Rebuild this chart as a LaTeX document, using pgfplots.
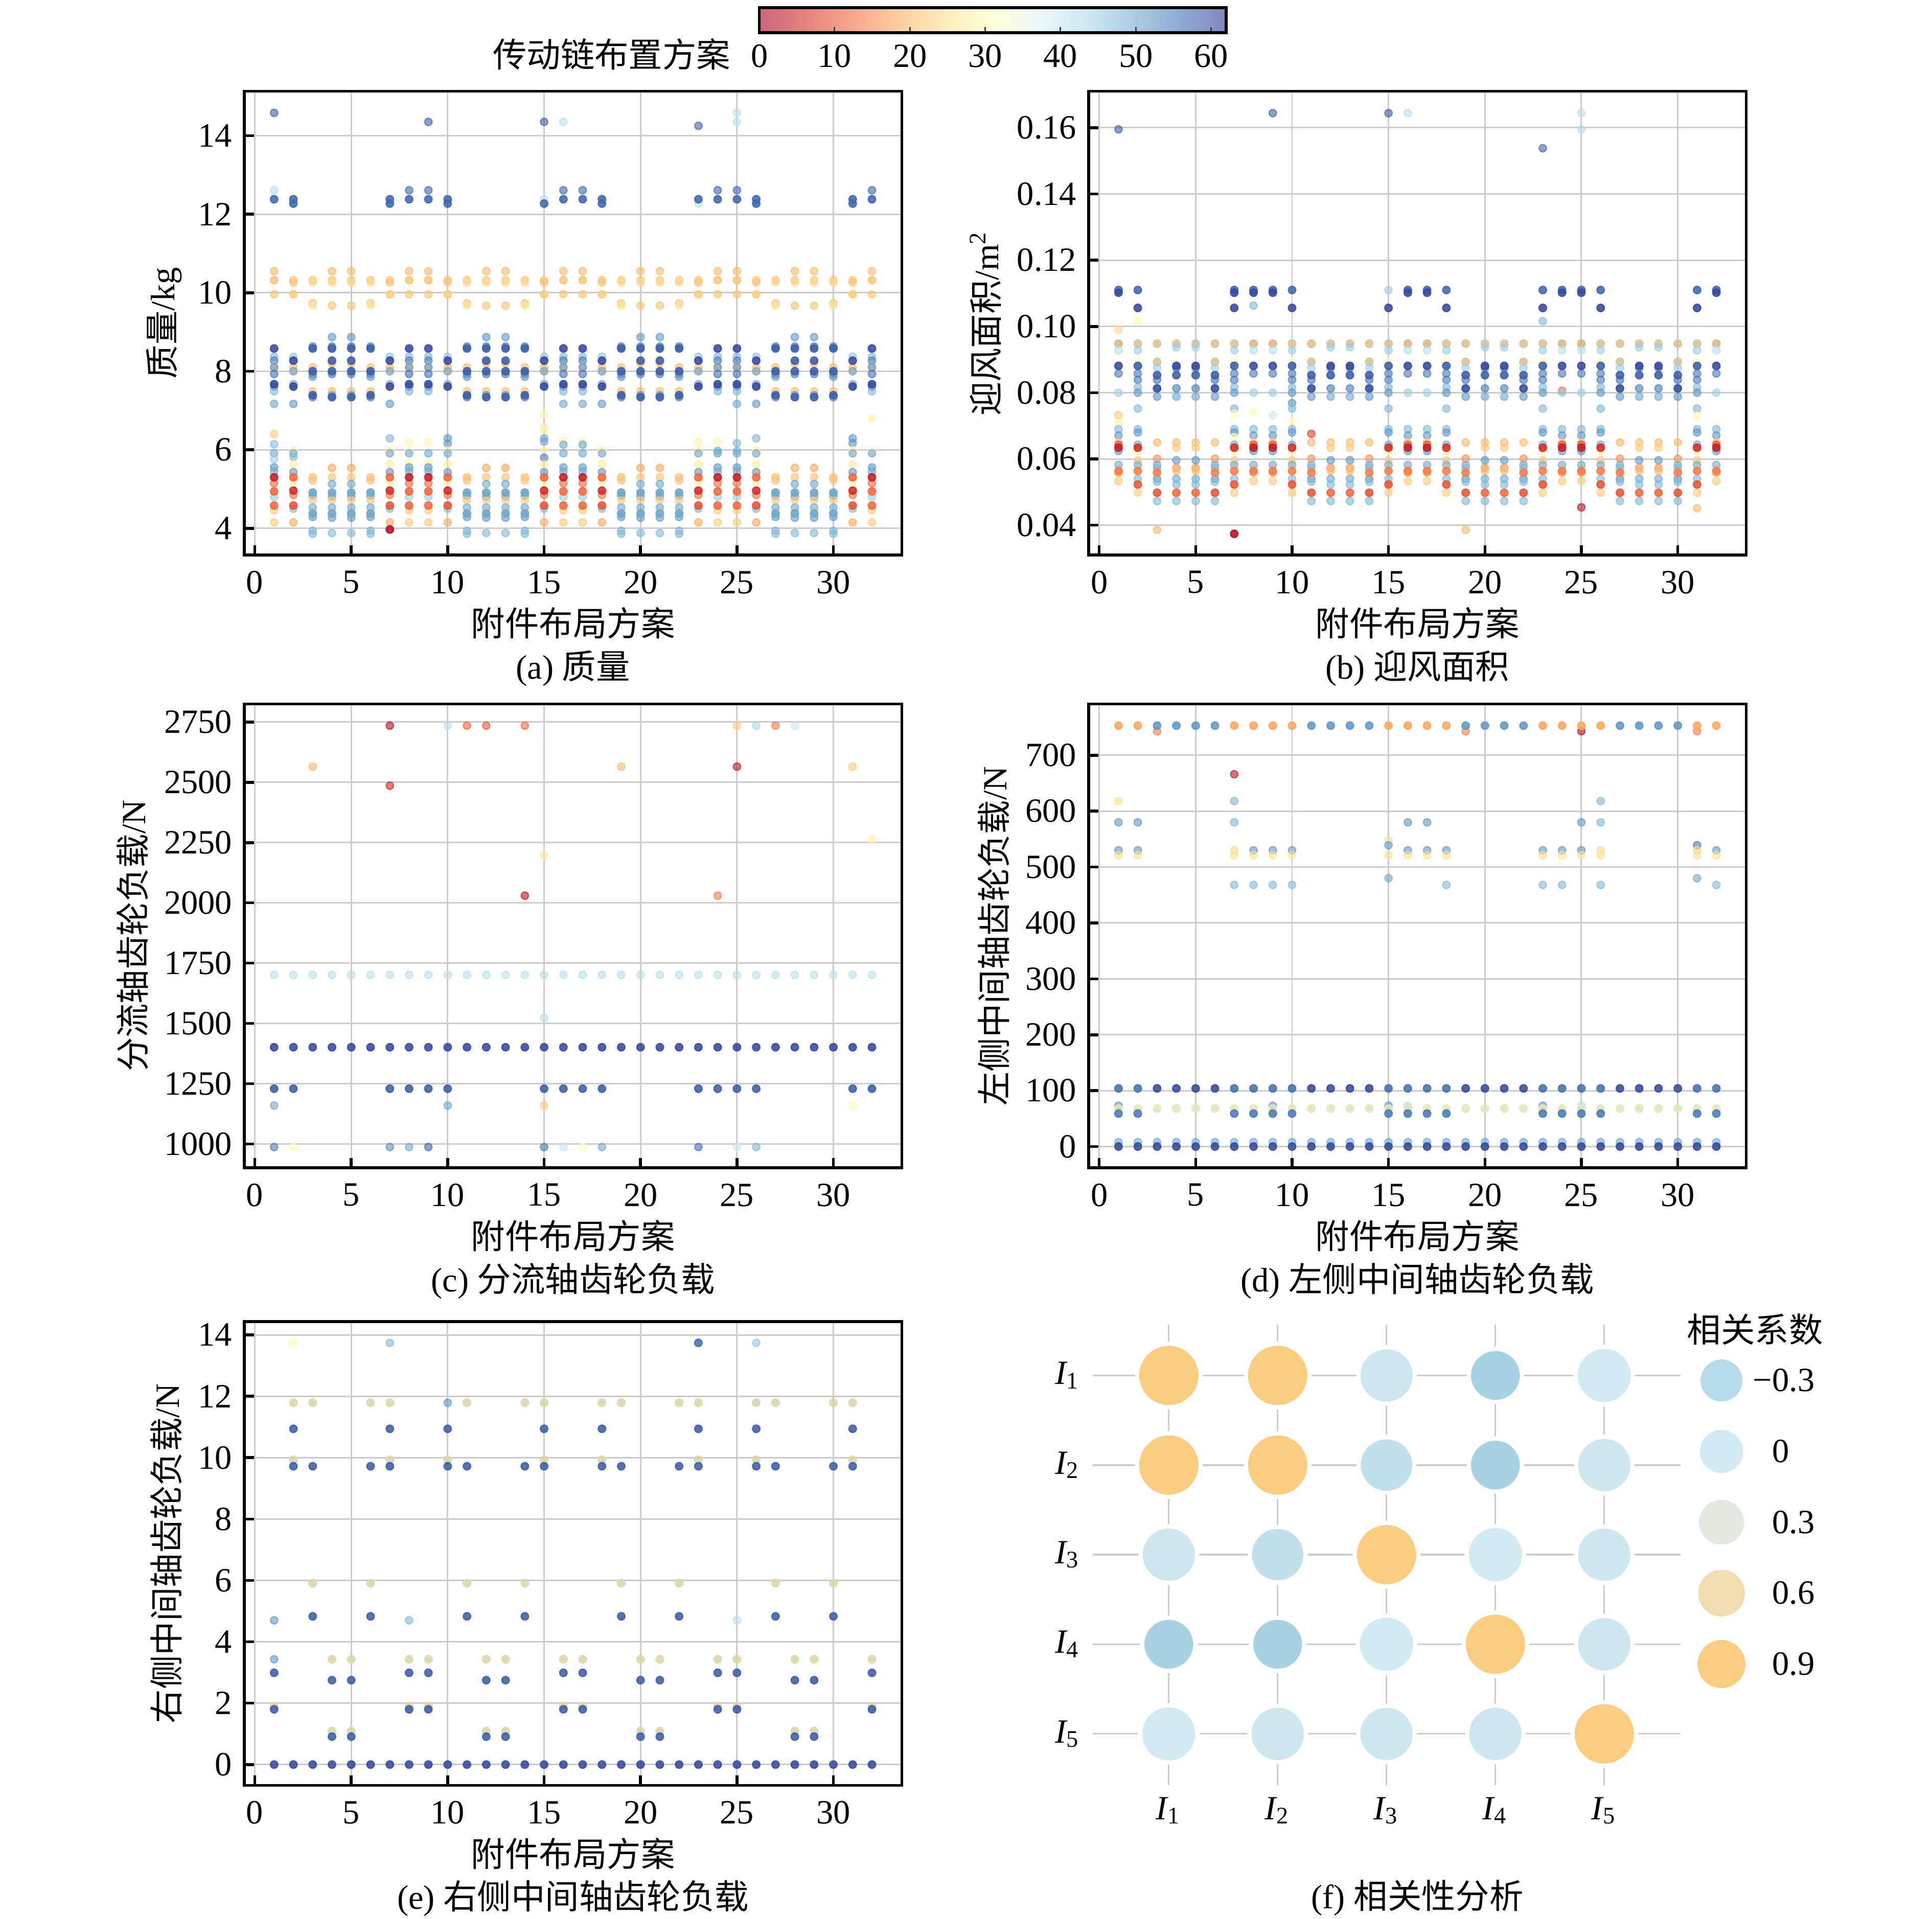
\documentclass[border=0pt]{standalone}
\usepackage{fontspec}
\setmainfont{Liberation Serif}
\newfontfamily\cjk{Noto Sans CJK SC}
\usepackage{pgfplots}
\usepackage{pgfplotstable}
\pgfplotsset{compat=1.18}

\definecolor{cO}{RGB}{252,204,128}
\definecolor{cLa}{RGB}{210,235,243}
\definecolor{cLb}{RGB}{205,231,240}
\definecolor{cM}{RGB}{192,225,236}
\definecolor{cB}{RGB}{166,210,228}
\definecolor{gA}{RGB}{182,220,234}
\definecolor{gB}{RGB}{210,234,242}
\definecolor{gC}{RGB}{228,233,224}
\definecolor{gD}{RGB}{241,219,176}
\definecolor{gE}{RGB}{252,204,128}

\pgfplotsset{
 colormap={rdylbulight}{rgb255=(201,102,125) rgb255=(231,131,125) rgb255=(248,167,142) rgb255=(254,206,160) rgb255=(254,236,188) rgb255=(255,255,217) rgb255=(236,248,251) rgb255=(205,232,242) rgb255=(172,206,227) rgb255=(143,172,210) rgb255=(131,134,191)},
 colormap={rdylbu}{rgb255=(165,0,38) rgb255=(215,48,39) rgb255=(244,109,67) rgb255=(253,174,97) rgb255=(254,224,144) rgb255=(255,255,191) rgb255=(224,243,248) rgb255=(171,217,233) rgb255=(116,173,209) rgb255=(69,117,180) rgb255=(49,54,149)},
 pts/.style={scatter, only marks, mark=*, mark size=0.85pt, point meta=explicit,
   scatter/use mapped color={draw=mapped color, fill=mapped color, opacity=0.6, line width=0.3pt}},
 ptsd/.style={scatter, only marks, mark=*, mark size=0.85pt, point meta=explicit,
   scatter/use mapped color={draw=mapped color, fill=mapped color, opacity=0.88, line width=0.3pt}},
 panel/.style={anchor=north west, scale only axis, width=5.31cm, height=3.745cm,
   xmin=-0.55, xmax=33.55, xtick={0,5,...,30},
   tick align=inside, tick pos=left, major tick length=0.8mm,
   major tick style={black, line width=0.65pt},
   axis line style={black, line width=0.65pt},
   grid=major, major grid style={draw=black!20, line width=0.35pt},
   colormap name=rdylbu, point meta min=0, point meta max=62,
   /pgf/number format/assume math mode=true,
   /pgf/number format/1000 sep={},
   scaled ticks=false,
   xticklabel style={yshift=-0.3mm},
   ylabel shift=-0.6mm},
}

% ---------------- panel (a) ----------------
\pgfplotstableread[row sep=\\]{
x y c\\
1 14.58 58\\ 1 12.61 42\\ 1 10.55 20\\ 1 10.32 27\\ 1 10.32 20\\ 1 9.96 21\\ 1 8.37 48\\ 1 8.27 55\\ 1 8.10 20\\ 1 8.10 52\\ 1 7.93 56\\ 1 7.61 55\\ 1 7.49 48\\ 1 7.17 50\\ 1 6.40 22\\ 1 6.14 47\\ 1 5.91 50\\ 1 5.76 45\\ 1 5.55 52\\ 1 5.45 50\\ 1 5.15 12\\ 1 4.80 45\\ 1 4.46 22\\ 1 4.15 22\\
2 10.32 21\\ 2 10.26 21\\ 2 9.96 28\\ 2 9.96 21\\ 2 8.37 46\\ 2 8.10 20\\ 2 8.00 20\\ 2 8.00 50\\ 2 7.67 50\\ 2 7.17 52\\ 2 5.99 28\\ 2 5.91 50\\ 2 5.82 48\\ 2 5.63 27\\ 2 5.43 52\\ 2 5.19 28\\ 2 4.85 13\\ 2 4.50 48\\ 2 4.15 18\\
3 10.32 21\\ 3 10.26 24\\ 3 9.73 21\\ 3 9.67 26\\ 3 8.63 55\\ 3 8.10 20\\ 3 7.93 55\\ 3 7.86 52\\ 3 7.49 20\\ 3 7.34 55\\ 3 5.30 20\\ 3 5.22 21\\ 3 4.91 20\\ 3 4.83 52\\ 3 4.72 22\\ 3 4.53 50\\ 3 4.38 20\\ 3 4.29 52\\ 3 3.94 48\\ 3 3.86 48\\
4 10.55 20\\ 4 10.32 21\\ 4 10.26 24\\ 4 9.67 21\\ 4 8.87 52\\ 4 8.63 55\\ 4 8.20 20\\ 4 7.93 55\\ 4 7.49 20\\ 4 7.39 52\\ 4 5.54 18\\ 4 5.30 21\\ 4 5.13 50\\ 4 4.91 20\\ 4 4.81 52\\ 4 4.72 22\\ 4 4.53 50\\ 4 4.38 20\\ 4 4.27 52\\ 4 3.88 48\\
5 10.55 20\\ 5 10.32 21\\ 5 10.26 24\\ 5 9.67 21\\ 5 8.87 52\\ 5 8.63 55\\ 5 8.20 20\\ 5 7.93 55\\ 5 7.49 20\\ 5 7.39 52\\ 5 5.54 18\\ 5 5.30 21\\ 5 5.13 50\\ 5 4.91 20\\ 5 4.81 52\\ 5 4.72 22\\ 5 4.53 50\\ 5 4.38 20\\ 5 4.27 52\\ 5 3.88 48\\
6 10.32 21\\ 6 10.26 24\\ 6 9.73 21\\ 6 9.67 26\\ 6 8.63 55\\ 6 8.10 20\\ 6 7.93 55\\ 6 7.86 52\\ 6 7.49 20\\ 6 7.34 55\\ 6 5.30 20\\ 6 5.22 21\\ 6 4.91 20\\ 6 4.83 52\\ 6 4.72 22\\ 6 4.53 50\\ 6 4.38 20\\ 6 4.29 52\\ 6 3.94 48\\ 6 3.86 48\\
7 10.32 21\\ 7 10.26 21\\ 7 9.96 28\\ 7 9.96 21\\ 7 8.37 46\\ 7 8.10 20\\ 7 8.00 20\\ 7 8.00 50\\ 7 7.67 50\\ 7 7.17 52\\ 7 6.29 48\\ 7 5.99 28\\ 7 5.91 50\\ 7 5.63 27\\ 7 5.43 52\\ 7 5.19 28\\ 7 4.85 13\\ 7 4.50 48\\ 7 4.15 18\\
8 12.61 57\\ 8 10.55 20\\ 8 10.32 27\\ 8 10.32 20\\ 8 9.96 21\\ 8 8.37 48\\ 8 8.27 55\\ 8 8.10 20\\ 8 8.10 52\\ 8 7.93 56\\ 8 7.61 55\\ 8 7.49 48\\ 8 6.19 29\\ 8 5.97 30\\ 8 5.91 50\\ 8 5.67 28\\ 8 5.55 52\\ 8 5.45 50\\ 8 5.15 12\\ 8 4.80 45\\ 8 4.46 22\\ 8 4.15 22\\
9 14.35 58\\ 9 12.61 57\\ 9 10.55 20\\ 9 10.32 27\\ 9 10.32 20\\ 9 9.96 21\\ 9 8.37 48\\ 9 8.27 55\\ 9 8.10 20\\ 9 8.10 52\\ 9 7.93 56\\ 9 7.61 55\\ 9 7.49 48\\ 9 6.19 29\\ 9 5.91 50\\ 9 5.67 28\\ 9 5.55 52\\ 9 5.45 50\\ 9 5.15 12\\ 9 4.80 45\\ 9 4.46 22\\ 9 4.15 22\\
10 10.32 21\\ 10 10.26 21\\ 10 9.96 28\\ 10 9.96 21\\ 10 8.37 46\\ 10 8.10 20\\ 10 8.00 20\\ 10 8.00 50\\ 10 7.67 50\\ 10 6.29 52\\ 10 6.16 52\\ 10 5.99 28\\ 10 5.91 50\\ 10 5.63 27\\ 10 5.43 52\\ 10 5.19 28\\ 10 4.85 13\\ 10 4.50 48\\ 10 4.15 18\\
11 10.32 21\\ 11 10.26 24\\ 11 9.73 21\\ 11 9.67 26\\ 11 8.63 55\\ 11 8.10 20\\ 11 7.93 55\\ 11 7.86 52\\ 11 7.49 20\\ 11 7.34 55\\ 11 5.30 20\\ 11 5.22 21\\ 11 4.91 20\\ 11 4.83 52\\ 11 4.72 22\\ 11 4.53 50\\ 11 4.38 20\\ 11 4.29 52\\ 11 3.94 48\\ 11 3.86 48\\
12 10.55 20\\ 12 10.32 21\\ 12 10.26 24\\ 12 9.67 21\\ 12 8.87 52\\ 12 8.63 55\\ 12 8.20 20\\ 12 7.93 55\\ 12 7.49 20\\ 12 7.39 52\\ 12 5.54 18\\ 12 5.30 21\\ 12 5.13 50\\ 12 4.91 20\\ 12 4.81 52\\ 12 4.72 22\\ 12 4.53 50\\ 12 4.38 20\\ 12 4.27 52\\ 12 3.88 48\\
13 10.55 20\\ 13 10.32 21\\ 13 10.26 24\\ 13 9.67 21\\ 13 8.87 52\\ 13 8.63 55\\ 13 8.20 20\\ 13 7.93 55\\ 13 7.49 20\\ 13 7.39 52\\ 13 5.54 18\\ 13 5.30 21\\ 13 5.13 50\\ 13 4.91 20\\ 13 4.81 52\\ 13 4.72 22\\ 13 4.53 50\\ 13 4.38 20\\ 13 4.27 52\\ 13 3.88 48\\
14 10.32 21\\ 14 10.26 24\\ 14 9.73 21\\ 14 9.67 26\\ 14 8.63 55\\ 14 8.10 20\\ 14 7.93 55\\ 14 7.86 52\\ 14 7.49 20\\ 14 7.34 55\\ 14 5.30 20\\ 14 5.22 21\\ 14 4.91 20\\ 14 4.83 52\\ 14 4.72 22\\ 14 4.53 50\\ 14 4.38 20\\ 14 4.29 52\\ 14 3.94 48\\ 14 3.86 48\\
15 14.35 58\\ 15 12.38 42\\ 15 10.32 21\\ 15 10.26 21\\ 15 9.96 28\\ 15 9.96 21\\ 15 8.37 46\\ 15 8.10 20\\ 15 8.00 20\\ 15 8.00 50\\ 15 7.67 50\\ 15 6.91 28\\ 15 6.57 28\\ 15 6.49 28\\ 15 6.29 50\\ 15 6.21 50\\ 15 5.99 28\\ 15 5.80 54\\ 15 5.63 27\\ 15 5.43 52\\ 15 5.19 28\\ 15 4.85 13\\ 15 4.50 48\\ 15 4.15 18\\
16 14.35 42\\ 16 12.61 57\\ 16 10.55 20\\ 16 10.32 27\\ 16 10.32 20\\ 16 9.96 21\\ 16 8.37 48\\ 16 8.27 55\\ 16 8.10 20\\ 16 8.10 52\\ 16 7.93 56\\ 16 7.61 55\\ 16 7.49 48\\ 16 7.17 50\\ 16 6.23 29\\ 16 6.13 50\\ 16 5.91 50\\ 16 5.55 52\\ 16 5.45 50\\ 16 5.15 12\\ 16 4.80 45\\ 16 4.46 22\\ 16 4.15 22\\
17 12.61 57\\ 17 10.55 20\\ 17 10.32 27\\ 17 10.32 20\\ 17 9.96 21\\ 17 8.37 48\\ 17 8.27 55\\ 17 8.10 20\\ 17 8.10 52\\ 17 7.93 56\\ 17 7.61 55\\ 17 7.49 48\\ 17 7.17 50\\ 17 6.19 29\\ 17 6.13 50\\ 17 5.91 50\\ 17 5.55 52\\ 17 5.45 50\\ 17 5.15 12\\ 17 4.80 45\\ 17 4.46 22\\ 17 4.15 22\\
18 10.32 21\\ 18 10.26 21\\ 18 9.96 28\\ 18 9.96 21\\ 18 8.37 46\\ 18 8.10 20\\ 18 8.00 20\\ 18 8.00 50\\ 18 7.67 50\\ 18 7.17 52\\ 18 5.99 28\\ 18 5.97 29\\ 18 5.91 50\\ 18 5.63 27\\ 18 5.43 52\\ 18 5.19 28\\ 18 4.85 13\\ 18 4.50 48\\ 18 4.15 18\\
19 10.32 21\\ 19 10.26 24\\ 19 9.73 21\\ 19 9.67 26\\ 19 8.63 55\\ 19 8.10 20\\ 19 7.93 55\\ 19 7.86 52\\ 19 7.49 20\\ 19 7.34 55\\ 19 5.30 20\\ 19 5.22 21\\ 19 4.91 20\\ 19 4.83 52\\ 19 4.72 22\\ 19 4.53 50\\ 19 4.38 20\\ 19 4.29 52\\ 19 3.94 48\\ 19 3.86 48\\
20 10.55 20\\ 20 10.32 21\\ 20 10.26 24\\ 20 9.67 21\\ 20 8.87 52\\ 20 8.63 55\\ 20 8.20 20\\ 20 7.93 55\\ 20 7.49 20\\ 20 7.39 52\\ 20 5.54 18\\ 20 5.30 21\\ 20 5.13 50\\ 20 4.91 20\\ 20 4.81 52\\ 20 4.72 22\\ 20 4.53 50\\ 20 4.38 20\\ 20 4.27 52\\ 20 3.88 48\\
21 10.55 20\\ 21 10.32 21\\ 21 10.26 24\\ 21 9.67 21\\ 21 8.87 52\\ 21 8.63 55\\ 21 8.20 20\\ 21 7.93 55\\ 21 7.49 20\\ 21 7.39 52\\ 21 5.54 18\\ 21 5.30 21\\ 21 5.13 50\\ 21 4.91 20\\ 21 4.81 52\\ 21 4.72 22\\ 21 4.53 50\\ 21 4.38 20\\ 21 4.27 52\\ 21 3.88 48\\
22 10.32 21\\ 22 10.26 24\\ 22 9.73 21\\ 22 9.67 26\\ 22 8.63 55\\ 22 8.10 20\\ 22 7.93 55\\ 22 7.86 52\\ 22 7.49 20\\ 22 7.34 55\\ 22 5.30 20\\ 22 5.22 21\\ 22 4.91 20\\ 22 4.83 52\\ 22 4.72 22\\ 22 4.53 50\\ 22 4.38 20\\ 22 4.29 52\\ 22 3.94 48\\ 22 3.86 48\\
23 14.25 57\\ 23 12.27 42\\ 23 10.32 21\\ 23 10.26 21\\ 23 9.96 28\\ 23 9.96 21\\ 23 8.37 46\\ 23 8.10 20\\ 23 8.00 20\\ 23 8.00 50\\ 23 7.67 50\\ 23 6.20 29\\ 23 5.99 28\\ 23 5.91 50\\ 23 5.63 27\\ 23 5.43 52\\ 23 5.19 28\\ 23 4.85 13\\ 23 4.50 48\\ 23 4.15 18\\
24 12.61 57\\ 24 10.55 20\\ 24 10.32 27\\ 24 10.32 20\\ 24 9.96 21\\ 24 8.37 48\\ 24 8.27 55\\ 24 8.10 20\\ 24 8.10 52\\ 24 7.93 56\\ 24 7.61 55\\ 24 7.49 48\\ 24 6.20 29\\ 24 5.97 50\\ 24 5.91 50\\ 24 5.55 52\\ 24 5.45 50\\ 24 5.15 12\\ 24 4.80 45\\ 24 4.46 22\\ 24 4.15 22\\
25 14.58 42\\ 25 14.35 42\\ 25 12.61 57\\ 25 10.55 20\\ 25 10.32 27\\ 25 10.32 20\\ 25 9.96 21\\ 25 8.37 48\\ 25 8.27 55\\ 25 8.10 20\\ 25 8.10 52\\ 25 7.93 56\\ 25 7.61 55\\ 25 7.49 48\\ 25 7.17 50\\ 25 6.17 48\\ 25 5.97 48\\ 25 5.91 50\\ 25 5.55 52\\ 25 5.45 50\\ 25 5.15 12\\ 25 4.80 45\\ 25 4.46 22\\ 25 4.15 22\\
26 10.32 21\\ 26 10.26 21\\ 26 9.96 28\\ 26 9.96 21\\ 26 8.37 46\\ 26 8.10 20\\ 26 8.00 20\\ 26 8.00 50\\ 26 7.67 50\\ 26 7.17 52\\ 26 6.29 48\\ 26 5.99 28\\ 26 5.91 50\\ 26 5.63 27\\ 26 5.43 52\\ 26 5.19 28\\ 26 4.85 13\\ 26 4.50 48\\ 26 4.15 18\\
27 10.32 21\\ 27 10.26 24\\ 27 9.73 21\\ 27 9.67 26\\ 27 8.63 55\\ 27 8.10 20\\ 27 7.93 55\\ 27 7.86 52\\ 27 7.49 20\\ 27 7.34 55\\ 27 5.30 20\\ 27 5.22 21\\ 27 4.91 20\\ 27 4.83 52\\ 27 4.72 22\\ 27 4.53 50\\ 27 4.38 20\\ 27 4.29 52\\ 27 3.94 48\\ 27 3.86 48\\
28 10.55 20\\ 28 10.32 21\\ 28 10.26 24\\ 28 9.67 21\\ 28 8.87 52\\ 28 8.63 55\\ 28 8.20 20\\ 28 7.93 55\\ 28 7.49 20\\ 28 7.39 52\\ 28 5.54 18\\ 28 5.30 21\\ 28 5.13 50\\ 28 4.91 20\\ 28 4.81 52\\ 28 4.72 22\\ 28 4.53 50\\ 28 4.38 20\\ 28 4.27 52\\ 28 3.88 48\\
29 10.55 20\\ 29 10.32 21\\ 29 10.26 24\\ 29 9.67 21\\ 29 8.87 52\\ 29 8.63 55\\ 29 8.20 20\\ 29 7.93 55\\ 29 7.49 20\\ 29 7.39 52\\ 29 5.54 18\\ 29 5.30 21\\ 29 5.13 50\\ 29 4.91 20\\ 29 4.81 52\\ 29 4.72 22\\ 29 4.53 50\\ 29 4.38 20\\ 29 4.27 52\\ 29 3.88 48\\
30 10.32 21\\ 30 10.26 24\\ 30 9.73 21\\ 30 9.67 26\\ 30 8.63 55\\ 30 8.10 20\\ 30 7.93 55\\ 30 7.86 52\\ 30 7.49 20\\ 30 7.34 55\\ 30 5.30 20\\ 30 5.22 21\\ 30 4.91 20\\ 30 4.83 52\\ 30 4.72 22\\ 30 4.53 50\\ 30 4.38 20\\ 30 4.29 52\\ 30 3.94 48\\ 30 3.86 48\\
31 10.32 21\\ 31 10.26 21\\ 31 9.96 28\\ 31 9.96 21\\ 31 8.37 46\\ 31 8.10 20\\ 31 8.00 20\\ 31 8.00 50\\ 31 7.67 50\\ 31 6.29 52\\ 31 6.17 52\\ 31 5.99 28\\ 31 5.91 50\\ 31 5.63 27\\ 31 5.43 52\\ 31 5.19 28\\ 31 4.85 13\\ 31 4.50 48\\ 31 4.15 18\\
32 12.61 57\\ 32 10.55 20\\ 32 10.32 27\\ 32 10.32 20\\ 32 9.96 21\\ 32 8.37 48\\ 32 8.27 55\\ 32 8.10 20\\ 32 8.10 52\\ 32 7.93 56\\ 32 7.61 55\\ 32 7.49 48\\ 32 6.80 28\\ 32 5.97 30\\ 32 5.91 50\\ 32 5.55 52\\ 32 5.45 50\\ 32 5.15 12\\ 32 4.80 45\\ 32 4.46 22\\ 32 4.15 22\\
}\tabAn
\pgfplotstableread[row sep=\\]{
x y c\\
1 12.38 57\\ 1 8.58 60\\ 1 7.67 60\\ 1 5.30 4\\ 1 4.94 12\\ 1 4.58 12\\
8 12.38 57\\ 8 8.58 60\\ 8 7.67 60\\ 8 5.30 4\\ 8 4.94 12\\ 8 4.58 12\\
9 12.38 57\\ 9 8.58 60\\ 9 7.67 60\\ 9 5.30 4\\ 9 4.94 12\\ 9 4.58 12\\
16 12.38 57\\ 16 8.58 60\\ 16 7.67 60\\ 16 5.30 4\\ 16 4.94 12\\ 16 4.58 12\\
17 12.38 57\\ 17 8.58 60\\ 17 7.67 60\\ 17 5.30 4\\ 17 4.94 12\\ 17 4.58 12\\
24 12.38 57\\ 24 8.58 60\\ 24 7.67 60\\ 24 5.30 4\\ 24 4.94 12\\ 24 4.58 12\\
25 12.38 57\\ 25 8.58 60\\ 25 7.67 60\\ 25 5.30 4\\ 25 4.94 12\\ 25 4.58 12\\
32 12.38 57\\ 32 8.58 60\\ 32 7.67 60\\ 32 5.30 4\\ 32 4.94 12\\ 32 4.58 12\\
2 12.38 57\\ 2 12.27 57\\ 2 8.27 60\\ 2 7.61 60\\ 2 5.30 12\\ 2 4.96 6\\ 2 4.58 10\\
7 12.38 57\\ 7 12.27 57\\ 7 8.27 60\\ 7 7.61 60\\ 7 5.30 12\\ 7 4.96 6\\ 7 4.58 10\\ 7 3.97 2\\
10 12.38 57\\ 10 12.27 57\\ 10 8.27 60\\ 10 7.61 60\\ 10 5.30 12\\ 10 4.96 6\\ 10 4.58 10\\
15 12.27 57\\ 15 8.27 60\\ 15 7.61 60\\ 15 5.30 12\\ 15 4.96 6\\ 15 4.58 10\\
18 12.38 57\\ 18 12.27 57\\ 18 8.27 60\\ 18 7.61 60\\ 18 5.30 12\\ 18 4.96 6\\ 18 4.58 10\\
23 12.38 57\\ 23 8.27 60\\ 23 7.61 60\\ 23 5.30 12\\ 23 4.96 6\\ 23 4.58 10\\
26 12.38 57\\ 26 12.27 57\\ 26 8.27 60\\ 26 7.61 60\\ 26 5.30 12\\ 26 4.96 6\\ 26 4.58 10\\
31 12.38 57\\ 31 12.27 57\\ 31 8.27 60\\ 31 7.61 60\\ 31 5.30 12\\ 31 4.96 6\\ 31 4.58 10\\
3 8.58 58\\ 3 8.00 58\\ 3 7.39 58\\ 3 4.91 50\\ 3 4.38 50\\
6 8.58 58\\ 6 8.00 58\\ 6 7.39 58\\ 6 4.91 50\\ 6 4.38 50\\
11 8.58 58\\ 11 8.00 58\\ 11 7.39 58\\ 11 4.91 50\\ 11 4.38 50\\
14 8.58 58\\ 14 8.00 58\\ 14 7.39 58\\ 14 4.91 50\\ 14 4.38 50\\
19 8.58 58\\ 19 8.00 58\\ 19 7.39 58\\ 19 4.91 50\\ 19 4.38 50\\
22 8.58 58\\ 22 8.00 58\\ 22 7.39 58\\ 22 4.91 50\\ 22 4.38 50\\
27 8.58 58\\ 27 8.00 58\\ 27 7.39 58\\ 27 4.91 50\\ 27 4.38 50\\
30 8.58 58\\ 30 8.00 58\\ 30 7.39 58\\ 30 4.91 50\\ 30 4.38 50\\
4 8.58 58\\ 4 8.27 58\\ 4 8.00 58\\ 4 7.34 58\\ 4 4.91 50\\ 4 4.38 50\\
5 8.58 58\\ 5 8.27 58\\ 5 8.00 58\\ 5 7.34 58\\ 5 4.91 50\\ 5 4.38 50\\
12 8.58 58\\ 12 8.27 58\\ 12 8.00 58\\ 12 7.34 58\\ 12 4.91 50\\ 12 4.38 50\\
13 8.58 58\\ 13 8.27 58\\ 13 8.00 58\\ 13 7.34 58\\ 13 4.91 50\\ 13 4.38 50\\
20 8.58 58\\ 20 8.27 58\\ 20 8.00 58\\ 20 7.34 58\\ 20 4.91 50\\ 20 4.38 50\\
21 8.58 58\\ 21 8.27 58\\ 21 8.00 58\\ 21 7.34 58\\ 21 4.91 50\\ 21 4.38 50\\
28 8.58 58\\ 28 8.27 58\\ 28 8.00 58\\ 28 7.34 58\\ 28 4.91 50\\ 28 4.38 50\\
29 8.58 58\\ 29 8.27 58\\ 29 8.00 58\\ 29 7.34 58\\ 29 4.91 50\\ 29 4.38 50\\
}\tabAd

% ---------------- panel (b) ----------------
\pgfplotstableread[row sep=\\]{
x y c\\
1 0.1595 58\\ 1 0.0990 24\\ 1 0.0948 50\\ 1 0.0948 20\\ 1 0.0928 42\\ 1 0.0858 55\\ 1 0.0800 45\\ 1 0.0732 22\\ 1 0.0708 28\\ 1 0.0690 48\\ 1 0.0671 52\\ 1 0.0650 22\\ 1 0.0643 8\\ 1 0.0624 52\\ 1 0.0582 50\\ 1 0.0559 16\\ 1 0.0533 22\\
8 0.1063 48\\ 8 0.0948 50\\ 8 0.0948 20\\ 8 0.0928 42\\ 8 0.0858 55\\ 8 0.0800 45\\ 8 0.0741 30\\ 8 0.0690 48\\ 8 0.0671 52\\ 8 0.0650 22\\ 8 0.0643 8\\ 8 0.0624 52\\ 8 0.0582 50\\ 8 0.0559 16\\ 8 0.0533 22\\
9 0.1644 58\\ 9 0.0948 50\\ 9 0.0948 20\\ 9 0.0928 42\\ 9 0.0858 55\\ 9 0.0800 45\\ 9 0.0732 40\\ 9 0.0690 48\\ 9 0.0671 52\\ 9 0.0650 22\\ 9 0.0643 8\\ 9 0.0624 52\\ 9 0.0582 50\\ 9 0.0559 16\\ 9 0.0533 22\\
16 0.1644 42\\ 16 0.0948 50\\ 16 0.0948 20\\ 16 0.0928 42\\ 16 0.0858 55\\ 16 0.0800 45\\ 16 0.0690 48\\ 16 0.0671 52\\ 16 0.0650 22\\ 16 0.0643 8\\ 16 0.0624 52\\ 16 0.0582 50\\ 16 0.0559 16\\ 16 0.0533 22\\
17 0.0948 50\\ 17 0.0948 20\\ 17 0.0928 42\\ 17 0.0858 55\\ 17 0.0800 45\\ 17 0.0690 48\\ 17 0.0671 52\\ 17 0.0650 22\\ 17 0.0643 8\\ 17 0.0624 52\\ 17 0.0582 50\\ 17 0.0559 16\\ 17 0.0533 22\\
24 0.0948 50\\ 24 0.0948 20\\ 24 0.0928 42\\ 24 0.0858 55\\ 24 0.0806 12\\ 24 0.0800 45\\ 24 0.0690 48\\ 24 0.0671 52\\ 24 0.0650 22\\ 24 0.0643 8\\ 24 0.0624 52\\ 24 0.0582 50\\ 24 0.0559 16\\ 24 0.0533 22\\
25 0.1644 42\\ 25 0.1595 42\\ 25 0.0948 50\\ 25 0.0948 20\\ 25 0.0928 42\\ 25 0.0858 55\\ 25 0.0800 45\\ 25 0.0690 48\\ 25 0.0671 52\\ 25 0.0650 22\\ 25 0.0643 8\\ 25 0.0624 52\\ 25 0.0582 50\\ 25 0.0559 16\\ 25 0.0533 22\\ 25 0.0454 3\\
32 0.0948 50\\ 32 0.0948 20\\ 32 0.0928 42\\ 32 0.0858 55\\ 32 0.0800 45\\ 32 0.0690 48\\ 32 0.0671 52\\ 32 0.0650 22\\ 32 0.0643 8\\ 32 0.0624 52\\ 32 0.0582 50\\ 32 0.0559 16\\ 32 0.0533 22\\
2 0.1016 30\\ 2 0.0948 50\\ 2 0.0948 22\\ 2 0.0928 45\\ 2 0.0893 30\\ 2 0.0858 55\\ 2 0.0839 55\\ 2 0.0816 48\\ 2 0.0800 52\\ 2 0.0752 48\\ 2 0.0690 48\\ 2 0.0680 52\\ 2 0.0643 50\\ 2 0.0624 28\\ 2 0.0596 22\\ 2 0.0582 50\\ 2 0.0540 48\\ 2 0.0498 22\\
7 0.0948 50\\ 7 0.0948 22\\ 7 0.0928 45\\ 7 0.0893 30\\ 7 0.0858 55\\ 7 0.0839 55\\ 7 0.0816 48\\ 7 0.0800 52\\ 7 0.0752 48\\ 7 0.0736 30\\ 7 0.0690 48\\ 7 0.0680 52\\ 7 0.0666 30\\ 7 0.0643 50\\ 7 0.0624 28\\ 7 0.0596 22\\ 7 0.0582 50\\ 7 0.0540 48\\ 7 0.0498 22\\
10 0.0948 50\\ 10 0.0948 22\\ 10 0.0928 45\\ 10 0.0893 30\\ 10 0.0858 55\\ 10 0.0839 55\\ 10 0.0816 48\\ 10 0.0800 52\\ 10 0.0769 52\\ 10 0.0752 48\\ 10 0.0713 30\\ 10 0.0690 48\\ 10 0.0680 52\\ 10 0.0643 50\\ 10 0.0624 28\\ 10 0.0596 22\\ 10 0.0582 50\\ 10 0.0540 48\\ 10 0.0498 22\\
15 0.1644 58\\ 15 0.1110 45\\ 15 0.0948 50\\ 15 0.0948 22\\ 15 0.0928 45\\ 15 0.0893 30\\ 15 0.0858 55\\ 15 0.0839 55\\ 15 0.0816 48\\ 15 0.0800 52\\ 15 0.0752 48\\ 15 0.0690 48\\ 15 0.0680 52\\ 15 0.0643 50\\ 15 0.0624 28\\ 15 0.0596 22\\ 15 0.0582 50\\ 15 0.0540 48\\ 15 0.0498 22\\
18 0.0948 50\\ 18 0.0948 22\\ 18 0.0928 45\\ 18 0.0893 30\\ 18 0.0858 55\\ 18 0.0839 55\\ 18 0.0816 48\\ 18 0.0800 52\\ 18 0.0752 48\\ 18 0.0690 48\\ 18 0.0680 52\\ 18 0.0643 50\\ 18 0.0624 28\\ 18 0.0596 22\\ 18 0.0582 50\\ 18 0.0540 48\\ 18 0.0498 22\\
23 0.1538 57\\ 23 0.1016 48\\ 23 0.0948 50\\ 23 0.0948 22\\ 23 0.0928 45\\ 23 0.0893 30\\ 23 0.0858 55\\ 23 0.0839 55\\ 23 0.0816 48\\ 23 0.0800 52\\ 23 0.0752 48\\ 23 0.0690 48\\ 23 0.0680 52\\ 23 0.0643 50\\ 23 0.0624 28\\ 23 0.0596 22\\ 23 0.0582 50\\ 23 0.0540 48\\ 23 0.0498 22\\
26 0.0948 50\\ 26 0.0948 22\\ 26 0.0928 45\\ 26 0.0893 30\\ 26 0.0858 55\\ 26 0.0839 55\\ 26 0.0816 48\\ 26 0.0800 52\\ 26 0.0752 48\\ 26 0.0690 48\\ 26 0.0680 52\\ 26 0.0643 50\\ 26 0.0624 28\\ 26 0.0596 22\\ 26 0.0582 50\\ 26 0.0540 48\\ 26 0.0498 22\\
31 0.0948 50\\ 31 0.0948 22\\ 31 0.0928 45\\ 31 0.0893 30\\ 31 0.0858 55\\ 31 0.0839 55\\ 31 0.0816 48\\ 31 0.0800 52\\ 31 0.0752 48\\ 31 0.0730 30\\ 31 0.0690 48\\ 31 0.0680 52\\ 31 0.0643 50\\ 31 0.0624 28\\ 31 0.0596 22\\ 31 0.0582 50\\ 31 0.0540 48\\ 31 0.0498 22\\ 31 0.0451 20\\
3 0.0948 50\\ 3 0.0948 22\\ 3 0.0893 50\\ 3 0.0893 22\\ 3 0.0875 45\\ 3 0.0839 56\\ 3 0.0788 52\\ 3 0.0650 20\\ 3 0.0601 16\\ 3 0.0582 50\\ 3 0.0573 48\\ 3 0.0540 52\\ 3 0.0531 48\\ 3 0.0473 48\\ 3 0.0386 20\\
6 0.0948 50\\ 6 0.0948 22\\ 6 0.0893 50\\ 6 0.0893 22\\ 6 0.0875 45\\ 6 0.0839 56\\ 6 0.0788 52\\ 6 0.0650 20\\ 6 0.0601 16\\ 6 0.0582 50\\ 6 0.0573 48\\ 6 0.0540 52\\ 6 0.0531 48\\ 6 0.0473 48\\
11 0.0948 50\\ 11 0.0948 22\\ 11 0.0893 50\\ 11 0.0893 22\\ 11 0.0875 45\\ 11 0.0839 56\\ 11 0.0788 52\\ 11 0.0676 8\\ 11 0.0650 20\\ 11 0.0601 16\\ 11 0.0582 50\\ 11 0.0573 48\\ 11 0.0540 52\\ 11 0.0531 48\\ 11 0.0473 48\\
14 0.0948 50\\ 14 0.0948 22\\ 14 0.0893 50\\ 14 0.0893 22\\ 14 0.0875 45\\ 14 0.0839 56\\ 14 0.0788 52\\ 14 0.0650 20\\ 14 0.0601 16\\ 14 0.0582 50\\ 14 0.0573 48\\ 14 0.0540 52\\ 14 0.0531 48\\ 14 0.0473 48\\
19 0.0948 50\\ 19 0.0948 22\\ 19 0.0893 50\\ 19 0.0893 22\\ 19 0.0875 45\\ 19 0.0839 56\\ 19 0.0788 52\\ 19 0.0650 20\\ 19 0.0601 16\\ 19 0.0582 50\\ 19 0.0573 48\\ 19 0.0540 52\\ 19 0.0531 48\\ 19 0.0473 48\\ 19 0.0386 20\\
22 0.0948 50\\ 22 0.0948 22\\ 22 0.0893 50\\ 22 0.0893 22\\ 22 0.0875 45\\ 22 0.0839 56\\ 22 0.0788 52\\ 22 0.0650 20\\ 22 0.0601 16\\ 22 0.0582 50\\ 22 0.0573 48\\ 22 0.0540 52\\ 22 0.0531 48\\ 22 0.0473 48\\
27 0.0948 50\\ 27 0.0948 22\\ 27 0.0893 50\\ 27 0.0893 22\\ 27 0.0875 45\\ 27 0.0839 56\\ 27 0.0788 52\\ 27 0.0650 20\\ 27 0.0601 16\\ 27 0.0582 50\\ 27 0.0573 48\\ 27 0.0540 52\\ 27 0.0531 48\\ 27 0.0473 48\\
30 0.0948 50\\ 30 0.0948 22\\ 30 0.0893 50\\ 30 0.0893 22\\ 30 0.0875 45\\ 30 0.0839 56\\ 30 0.0788 52\\ 30 0.0650 20\\ 30 0.0601 16\\ 30 0.0582 50\\ 30 0.0573 48\\ 30 0.0540 52\\ 30 0.0531 48\\ 30 0.0473 48\\
4 0.0948 50\\ 4 0.0948 22\\ 4 0.0937 45\\ 4 0.0875 56\\ 4 0.0813 55\\ 4 0.0788 50\\ 4 0.0650 20\\ 4 0.0634 22\\ 4 0.0596 52\\ 4 0.0573 16\\ 4 0.0564 20\\ 4 0.0540 50\\ 4 0.0523 48\\ 4 0.0473 48\\
5 0.0948 50\\ 5 0.0948 22\\ 5 0.0937 45\\ 5 0.0875 56\\ 5 0.0813 55\\ 5 0.0788 50\\ 5 0.0650 20\\ 5 0.0634 22\\ 5 0.0596 52\\ 5 0.0573 16\\ 5 0.0564 20\\ 5 0.0540 50\\ 5 0.0523 48\\ 5 0.0473 48\\
12 0.0948 50\\ 12 0.0948 22\\ 12 0.0937 45\\ 12 0.0875 56\\ 12 0.0813 55\\ 12 0.0788 50\\ 12 0.0650 20\\ 12 0.0634 22\\ 12 0.0596 52\\ 12 0.0573 16\\ 12 0.0564 20\\ 12 0.0540 50\\ 12 0.0523 48\\ 12 0.0473 48\\
13 0.0948 50\\ 13 0.0948 22\\ 13 0.0937 45\\ 13 0.0875 56\\ 13 0.0813 55\\ 13 0.0788 50\\ 13 0.0650 20\\ 13 0.0634 22\\ 13 0.0596 52\\ 13 0.0573 16\\ 13 0.0564 20\\ 13 0.0540 50\\ 13 0.0523 48\\ 13 0.0473 48\\
20 0.0948 50\\ 20 0.0948 22\\ 20 0.0937 45\\ 20 0.0875 56\\ 20 0.0813 55\\ 20 0.0788 50\\ 20 0.0650 20\\ 20 0.0634 22\\ 20 0.0596 52\\ 20 0.0573 16\\ 20 0.0564 20\\ 20 0.0540 50\\ 20 0.0523 48\\ 20 0.0473 48\\
21 0.0948 50\\ 21 0.0948 22\\ 21 0.0937 45\\ 21 0.0875 56\\ 21 0.0813 55\\ 21 0.0788 50\\ 21 0.0650 20\\ 21 0.0634 22\\ 21 0.0596 52\\ 21 0.0573 16\\ 21 0.0564 20\\ 21 0.0540 50\\ 21 0.0523 48\\ 21 0.0473 48\\
28 0.0948 50\\ 28 0.0948 22\\ 28 0.0937 45\\ 28 0.0875 56\\ 28 0.0813 55\\ 28 0.0788 50\\ 28 0.0650 20\\ 28 0.0634 22\\ 28 0.0596 52\\ 28 0.0573 16\\ 28 0.0564 20\\ 28 0.0540 50\\ 28 0.0523 48\\ 28 0.0473 48\\
29 0.0948 50\\ 29 0.0948 22\\ 29 0.0937 45\\ 29 0.0875 56\\ 29 0.0813 55\\ 29 0.0788 50\\ 29 0.0650 20\\ 29 0.0634 22\\ 29 0.0596 52\\ 29 0.0573 16\\ 29 0.0564 20\\ 29 0.0540 50\\ 29 0.0523 48\\ 29 0.0473 48\\
}\tabBn
\pgfplotstableread[row sep=\\]{
x y c\\
1 0.1110 57\\ 1 0.1102 60\\ 1 0.0881 60\\ 1 0.0634 4\\ 1 0.0564 14\\
8 0.1110 57\\ 8 0.1102 60\\ 8 0.0881 60\\ 8 0.0634 4\\ 8 0.0564 14\\
9 0.1110 57\\ 9 0.1102 60\\ 9 0.0881 60\\ 9 0.0634 4\\ 9 0.0564 14\\
16 0.1110 57\\ 16 0.1102 60\\ 16 0.0881 60\\ 16 0.0634 4\\ 16 0.0564 14\\
17 0.1110 57\\ 17 0.1102 60\\ 17 0.0881 60\\ 17 0.0634 4\\ 17 0.0564 14\\
24 0.1110 57\\ 24 0.1102 60\\ 24 0.0881 60\\ 24 0.0634 4\\ 24 0.0564 14\\
25 0.1110 57\\ 25 0.1102 60\\ 25 0.0881 60\\ 25 0.0634 4\\ 25 0.0564 14\\
32 0.1110 57\\ 32 0.1102 60\\ 32 0.0881 60\\ 32 0.0634 4\\ 32 0.0564 14\\
2 0.1110 57\\ 2 0.1056 60\\ 2 0.0881 58\\ 2 0.0634 6\\ 2 0.0564 14\\ 2 0.0523 10\\
7 0.1110 57\\ 7 0.1102 60\\ 7 0.1056 60\\ 7 0.0881 58\\ 7 0.0634 6\\ 7 0.0564 14\\ 7 0.0523 10\\ 7 0.0374 2\\
10 0.1110 57\\ 10 0.1056 60\\ 10 0.0881 58\\ 10 0.0634 6\\ 10 0.0564 14\\ 10 0.0523 10\\
15 0.1056 60\\ 15 0.0881 58\\ 15 0.0634 6\\ 15 0.0564 14\\ 15 0.0523 10\\
18 0.1110 57\\ 18 0.1056 60\\ 18 0.0881 58\\ 18 0.0634 6\\ 18 0.0564 14\\ 18 0.0523 10\\
23 0.1110 57\\ 23 0.1056 60\\ 23 0.0881 58\\ 23 0.0634 6\\ 23 0.0564 14\\ 23 0.0523 10\\
26 0.1110 57\\ 26 0.1056 60\\ 26 0.0881 58\\ 26 0.0634 6\\ 26 0.0564 14\\ 26 0.0523 10\\
31 0.1110 57\\ 31 0.1056 60\\ 31 0.0881 58\\ 31 0.0634 6\\ 31 0.0564 14\\ 31 0.0523 10\\
3 0.0853 58\\ 3 0.0813 60\\ 3 0.0559 14\\ 3 0.0498 10\\
6 0.0853 58\\ 6 0.0813 60\\ 6 0.0559 14\\ 6 0.0498 10\\
11 0.0853 58\\ 11 0.0813 60\\ 11 0.0559 14\\ 11 0.0498 10\\
14 0.0853 58\\ 14 0.0813 60\\ 14 0.0559 14\\ 14 0.0498 10\\
19 0.0853 58\\ 19 0.0813 60\\ 19 0.0559 14\\ 19 0.0498 10\\
22 0.0853 58\\ 22 0.0813 60\\ 22 0.0559 14\\ 22 0.0498 10\\
27 0.0853 58\\ 27 0.0813 60\\ 27 0.0559 14\\ 27 0.0498 10\\
30 0.0853 58\\ 30 0.0813 60\\ 30 0.0559 14\\ 30 0.0498 10\\
4 0.0881 60\\ 4 0.0853 58\\ 4 0.0498 12\\
5 0.0881 60\\ 5 0.0853 58\\ 5 0.0498 12\\
12 0.0881 60\\ 12 0.0853 58\\ 12 0.0498 12\\
13 0.0881 60\\ 13 0.0853 58\\ 13 0.0498 12\\
20 0.0881 60\\ 20 0.0853 58\\ 20 0.0498 12\\
21 0.0881 60\\ 21 0.0853 58\\ 21 0.0498 12\\
28 0.0881 60\\ 28 0.0853 58\\ 28 0.0498 12\\
29 0.0881 60\\ 29 0.0853 58\\ 29 0.0498 12\\
}\tabBd

% ---------------- panel (c) ----------------
\pgfplotstableread[row sep=\\]{
x y c\\
1 1701 42\\ 2 1701 42\\ 3 1701 42\\ 4 1701 42\\ 5 1701 42\\ 6 1701 42\\ 7 1701 42\\ 8 1701 42\\
9 1701 42\\ 10 1701 42\\ 11 1701 42\\ 12 1701 42\\ 13 1701 42\\ 14 1701 42\\ 15 1701 42\\ 16 1701 42\\
17 1701 42\\ 18 1701 42\\ 19 1701 42\\ 20 1701 42\\ 21 1701 42\\ 22 1701 42\\ 23 1701 42\\ 24 1701 42\\
25 1701 42\\ 26 1701 42\\ 27 1701 42\\ 28 1701 42\\ 29 1701 42\\ 30 1701 42\\ 31 1701 42\\ 32 1701 42\\
1 1159 50\\ 10 1159 50\\ 15 1159 22\\ 31 1159 30\\
1 987 55\\ 2 987 30\\ 7 987 53\\ 8 987 50\\ 9 987 57\\ 15 987 55\\ 16 987 40\\ 17 987 32\\ 18 987 50\\ 23 987 56\\ 25 987 40\\ 26 987 48\\
15 1522 42\\
7 2735 2\\ 10 2735 42\\ 11 2735 12\\ 12 2735 10\\ 14 2735 12\\ 25 2735 22\\ 26 2735 43\\ 27 2735 14\\ 28 2735 40\\
3 2565 20\\ 19 2565 20\\ 25 2565 3\\ 31 2565 22\\
7 2486 5\\ 15 2197 26\\ 32 2265 28\\ 14 2030 3\\ 24 2030 14\\
}\tabCn
\pgfplotstableread[row sep=\\]{
x y c\\
1 1401 60\\ 2 1401 60\\ 3 1401 60\\ 4 1401 60\\ 5 1401 60\\ 6 1401 60\\ 7 1401 60\\ 8 1401 60\\
9 1401 60\\ 10 1401 60\\ 11 1401 60\\ 12 1401 60\\ 13 1401 60\\ 14 1401 60\\ 15 1401 60\\ 16 1401 60\\
17 1401 60\\ 18 1401 60\\ 19 1401 60\\ 20 1401 60\\ 21 1401 60\\ 22 1401 60\\ 23 1401 60\\ 24 1401 60\\
25 1401 60\\ 26 1401 60\\ 27 1401 60\\ 28 1401 60\\ 29 1401 60\\ 30 1401 60\\ 31 1401 60\\ 32 1401 60\\
1 1229 58\\ 2 1229 58\\ 7 1229 58\\ 8 1229 58\\ 9 1229 58\\ 10 1229 58\\ 15 1229 58\\ 16 1229 58\\
17 1229 58\\ 18 1229 58\\ 23 1229 58\\ 24 1229 58\\ 25 1229 58\\ 26 1229 58\\ 31 1229 58\\ 32 1229 58\\
}\tabCd

% ---------------- panel (d) ----------------
\pgfplotstableread[row sep=\\]{
x y c\\
3 743 14\\ 19 743 14\\ 25 743 2\\ 31 743 14\\
7 666 3\\
1 618 25\\ 7 618 48\\ 26 618 48\\
1 580 52\\ 2 580 52\\ 7 580 48\\ 16 580 52\\ 17 580 52\\ 25 580 52\\ 26 580 48\\
15 548 25\\ 15 539 52\\ 31 539 55\\
1 530 52\\ 2 530 52\\ 8 530 52\\ 9 530 52\\ 10 530 52\\ 16 530 52\\ 17 530 52\\ 18 530 52\\ 23 530 52\\ 24 530 52\\ 25 530 52\\ 32 530 52\\
7 530 24\\ 26 530 24\\ 31 530 24\\
1 521 25\\ 2 521 25\\ 7 521 25\\ 8 521 25\\ 9 521 25\\ 10 521 25\\ 15 521 25\\ 16 521 25\\
17 521 25\\ 18 521 25\\ 23 521 25\\ 24 521 25\\ 25 521 25\\ 26 521 25\\ 31 521 25\\ 32 521 25\\
15 480 50\\ 31 480 50\\
7 468 48\\ 8 468 48\\ 9 468 48\\ 10 468 48\\ 18 468 48\\ 23 468 48\\ 24 468 48\\ 26 468 48\\ 32 468 48\\
1 73 52\\ 9 73 52\\ 15 73 52\\ 23 73 52\\ 16 73 42\\ 25 73 42\\
1 68 46\\ 1 68 28\\ 2 68 46\\ 2 68 28\\ 3 68 46\\ 3 68 28\\ 4 68 46\\ 4 68 28\\
5 68 46\\ 5 68 28\\ 6 68 46\\ 6 68 28\\ 7 68 46\\ 7 68 28\\ 8 68 46\\ 8 68 28\\
9 68 46\\ 9 68 28\\ 10 68 46\\ 10 68 28\\ 11 68 46\\ 11 68 28\\ 12 68 46\\ 12 68 28\\
13 68 46\\ 13 68 28\\ 14 68 46\\ 14 68 28\\ 15 68 46\\ 15 68 28\\ 16 68 46\\ 16 68 28\\
17 68 46\\ 17 68 28\\ 18 68 46\\ 18 68 28\\ 19 68 46\\ 19 68 28\\ 20 68 46\\ 20 68 28\\
21 68 46\\ 21 68 28\\ 22 68 46\\ 22 68 28\\ 23 68 46\\ 23 68 28\\ 24 68 46\\ 24 68 28\\
25 68 46\\ 25 68 28\\ 26 68 46\\ 26 68 28\\ 27 68 46\\ 27 68 28\\ 28 68 46\\ 28 68 28\\
29 68 46\\ 29 68 28\\ 30 68 46\\ 30 68 28\\ 31 68 46\\ 31 68 28\\ 32 68 46\\ 32 68 28\\
1 8 50\\ 2 8 50\\ 3 8 50\\ 4 8 50\\ 5 8 50\\ 6 8 50\\ 7 8 50\\ 8 8 50\\
9 8 50\\ 10 8 50\\ 11 8 50\\ 12 8 50\\ 13 8 50\\ 14 8 50\\ 15 8 50\\ 16 8 50\\
17 8 50\\ 18 8 50\\ 19 8 50\\ 20 8 50\\ 21 8 50\\ 22 8 50\\ 23 8 50\\ 24 8 50\\
25 8 50\\ 26 8 50\\ 27 8 50\\ 28 8 50\\ 29 8 50\\ 30 8 50\\ 31 8 50\\ 32 8 50\\
}\tabDn
\pgfplotstableread[row sep=\\]{
x y c\\
1 753 18\\ 2 753 18\\ 7 753 18\\ 8 753 18\\ 9 753 18\\ 10 753 18\\ 15 753 18\\ 16 753 18\\
17 753 18\\ 18 753 18\\ 23 753 18\\ 24 753 18\\ 25 753 18\\ 26 753 18\\ 31 753 18\\ 32 753 18\\
3 753 52\\ 4 753 52\\ 5 753 52\\ 6 753 52\\ 11 753 52\\ 12 753 52\\ 13 753 52\\ 14 753 52\\
19 753 52\\ 20 753 52\\ 21 753 52\\ 22 753 52\\ 27 753 52\\ 28 753 52\\ 29 753 52\\ 30 753 52\\
1 104 56\\ 2 104 56\\ 7 104 56\\ 8 104 56\\ 9 104 56\\ 10 104 56\\ 15 104 56\\ 16 104 56\\
17 104 56\\ 18 104 56\\ 23 104 56\\ 24 104 56\\ 25 104 56\\ 26 104 56\\ 31 104 56\\ 32 104 56\\
3 104 60\\ 4 104 60\\ 5 104 60\\ 6 104 60\\ 11 104 60\\ 12 104 60\\ 13 104 60\\ 14 104 60\\
19 104 60\\ 20 104 60\\ 21 104 60\\ 22 104 60\\ 27 104 60\\ 28 104 60\\ 29 104 60\\ 30 104 60\\
1 59 55\\ 2 59 55\\ 7 59 55\\ 8 59 55\\ 9 59 55\\ 10 59 55\\ 15 59 55\\ 16 59 55\\
17 59 55\\ 18 59 55\\ 23 59 55\\ 24 59 55\\ 25 59 55\\ 26 59 55\\ 31 59 55\\ 32 59 55\\
1 0 60\\ 2 0 60\\ 3 0 60\\ 4 0 60\\ 5 0 60\\ 6 0 60\\ 7 0 60\\ 8 0 60\\
9 0 60\\ 10 0 60\\ 11 0 60\\ 12 0 60\\ 13 0 60\\ 14 0 60\\ 15 0 60\\ 16 0 60\\
17 0 60\\ 18 0 60\\ 19 0 60\\ 20 0 60\\ 21 0 60\\ 22 0 60\\ 23 0 60\\ 24 0 60\\
25 0 60\\ 26 0 60\\ 27 0 60\\ 28 0 60\\ 29 0 60\\ 30 0 60\\ 31 0 60\\ 32 0 60\\
}\tabDd

% ---------------- panel (e) ----------------
\pgfplotstableread[row sep=\\]{
x y c\\
2 13.74 30\\ 7 13.74 48\\ 26 13.74 46\\
2 11.79 50\\ 2 11.79 26\\ 3 11.79 50\\ 3 11.79 26\\ 6 11.79 50\\ 6 11.79 26\\ 7 11.79 50\\ 7 11.79 26\\
10 11.79 52\\ 11 11.79 50\\ 11 11.79 26\\ 14 11.79 50\\ 14 11.79 26\\ 15 11.79 50\\ 15 11.79 26\\
18 11.79 50\\ 18 11.79 26\\ 19 11.79 50\\ 19 11.79 26\\ 22 11.79 50\\ 22 11.79 26\\ 23 11.79 50\\ 23 11.79 26\\
26 11.79 50\\ 26 11.79 26\\ 27 11.79 50\\ 27 11.79 26\\ 30 11.79 50\\ 30 11.79 26\\ 31 11.79 50\\ 31 11.79 26\\
2 9.93 50\\ 2 9.93 26\\ 7 9.93 50\\ 7 9.93 26\\ 10 9.93 50\\ 10 9.93 26\\ 15 9.93 50\\ 15 9.93 26\\
18 9.93 50\\ 18 9.93 26\\ 23 9.93 50\\ 23 9.93 26\\ 26 9.93 50\\ 26 9.93 26\\ 31 9.93 50\\ 31 9.93 26\\
3 5.91 50\\ 3 5.91 26\\ 6 5.91 50\\ 6 5.91 26\\ 11 5.91 50\\ 11 5.91 26\\ 14 5.91 50\\ 14 5.91 26\\
19 5.91 50\\ 19 5.91 26\\ 22 5.91 50\\ 22 5.91 26\\ 27 5.91 50\\ 27 5.91 26\\ 30 5.91 50\\ 30 5.91 26\\
1 4.70 52\\ 8 4.70 48\\ 25 4.70 42\\
1 3.43 52\\ 4 3.43 50\\ 4 3.43 26\\ 5 3.43 50\\ 5 3.43 26\\ 8 3.43 50\\ 8 3.43 26\\ 9 3.43 50\\ 9 3.43 26\\
12 3.43 50\\ 12 3.43 26\\ 13 3.43 50\\ 13 3.43 26\\ 16 3.43 50\\ 16 3.43 26\\ 17 3.43 50\\ 17 3.43 26\\
20 3.43 50\\ 20 3.43 26\\ 21 3.43 50\\ 21 3.43 26\\ 24 3.43 50\\ 24 3.43 26\\ 25 3.43 50\\ 25 3.43 26\\
28 3.43 50\\ 28 3.43 26\\ 29 3.43 50\\ 29 3.43 26\\ 32 3.43 50\\ 32 3.43 26\\
1 1.90 50\\ 1 1.90 26\\ 8 1.90 50\\ 8 1.90 26\\ 9 1.90 50\\ 9 1.90 26\\ 16 1.90 50\\ 16 1.90 26\\
17 1.90 50\\ 17 1.90 26\\ 24 1.90 50\\ 24 1.90 26\\ 25 1.90 50\\ 25 1.90 26\\ 32 1.90 50\\ 32 1.90 26\\
4 1.09 50\\ 4 1.09 26\\ 5 1.09 50\\ 5 1.09 26\\ 12 1.09 50\\ 12 1.09 26\\ 13 1.09 50\\ 13 1.09 26\\
20 1.09 50\\ 20 1.09 26\\ 21 1.09 50\\ 21 1.09 26\\ 28 1.09 50\\ 28 1.09 26\\ 29 1.09 50\\ 29 1.09 26\\
}\tabEn
\pgfplotstableread[row sep=\\]{
x y c\\
23 13.74 56\\
2 10.94 58\\ 7 10.94 58\\ 10 10.94 58\\ 15 10.94 58\\ 18 10.94 58\\ 23 10.94 58\\ 26 10.94 58\\ 31 10.94 58\\
2 9.72 58\\ 3 9.72 58\\ 6 9.72 58\\ 7 9.72 58\\ 10 9.72 58\\ 11 9.72 58\\ 14 9.72 58\\ 15 9.72 58\\
18 9.72 58\\ 19 9.72 58\\ 22 9.72 58\\ 23 9.72 58\\ 26 9.72 58\\ 27 9.72 58\\ 30 9.72 58\\ 31 9.72 58\\
3 4.83 58\\ 6 4.83 58\\ 11 4.83 58\\ 14 4.83 58\\ 19 4.83 58\\ 22 4.83 58\\ 27 4.83 58\\ 30 4.83 58\\
1 2.99 58\\ 8 2.99 58\\ 9 2.99 58\\ 16 2.99 58\\ 17 2.99 58\\ 24 2.99 58\\ 25 2.99 58\\ 32 2.99 58\\
4 2.75 58\\ 5 2.75 58\\ 12 2.75 58\\ 13 2.75 58\\ 20 2.75 58\\ 21 2.75 58\\ 28 2.75 58\\ 29 2.75 58\\
1 1.80 58\\ 8 1.80 58\\ 9 1.80 58\\ 16 1.80 58\\ 17 1.80 58\\ 24 1.80 58\\ 25 1.80 58\\ 32 1.80 58\\
4 0.91 58\\ 5 0.91 58\\ 12 0.91 58\\ 13 0.91 58\\ 20 0.91 58\\ 21 0.91 58\\ 28 0.91 58\\ 29 0.91 58\\
1 0 60\\ 2 0 60\\ 3 0 60\\ 4 0 60\\ 5 0 60\\ 6 0 60\\ 7 0 60\\ 8 0 60\\
9 0 60\\ 10 0 60\\ 11 0 60\\ 12 0 60\\ 13 0 60\\ 14 0 60\\ 15 0 60\\ 16 0 60\\
17 0 60\\ 18 0 60\\ 19 0 60\\ 20 0 60\\ 21 0 60\\ 22 0 60\\ 23 0 60\\ 24 0 60\\
25 0 60\\ 26 0 60\\ 27 0 60\\ 28 0 60\\ 29 0 60\\ 30 0 60\\ 31 0 60\\ 32 0 60\\
}\tabEd

% ---------------- panel (f): correlation matrix (x = column j, y = row i, v = r) ----------------
\pgfplotstableread[row sep=\\]{
x y v\\ 1 1 1.00\\ 2 1 0.95\\ 1 2 0.95\\ 2 2 1.00\\ 3 3 1.00\\ 4 4 1.00\\ 5 5 1.00\\
}\tabFo
\pgfplotstableread[row sep=\\]{
x y v\\ 5 1 0.00\\ 4 3 0.00\\ 3 4 0.00\\ 1 5 0.00\\
}\tabFla
\pgfplotstableread[row sep=\\]{
x y v\\ 3 1 -0.03\\ 5 2 -0.03\\ 1 3 -0.03\\ 5 3 -0.03\\ 5 4 -0.03\\ 2 5 -0.03\\ 3 5 -0.03\\ 4 5 -0.03\\
}\tabFlb
\pgfplotstableread[row sep=\\]{
x y v\\ 3 2 -0.10\\ 2 3 -0.10\\
}\tabFm
\pgfplotstableread[row sep=\\]{
x y v\\ 4 1 -0.27\\ 4 2 -0.29\\ 1 4 -0.27\\ 2 4 -0.29\\
}\tabFb

\begin{document}
\fontsize{7.8}{9.4}\selectfont
\begin{tikzpicture}
\path[use as bounding box] (0,0) rectangle (15.6,-15.493);

% colorbar
\begin{axis}[at={(6.131cm,-0.062cm)}, anchor=north west, scale only axis,
  width=3.77cm, height=0.202cm, xmin=0, xmax=62, ymin=0, ymax=1,
  xtick={0,10,...,60}, ytick=\empty, tick align=inside, xtick pos=left,
  major tick length=0.44mm, major tick style={black!75, line width=0.35pt},
  axis line style={black, line width=0.65pt}, axis on top,
  colormap name=rdylbulight, point meta min=0, point meta max=62,
  /pgf/number format/assume math mode=true]
\addplot[surf, shader=interp, point meta=x, mesh/rows=2] coordinates {
(0,0) (6.2,0) (12.4,0) (18.6,0) (24.8,0) (31,0) (37.2,0) (43.4,0) (49.6,0) (55.8,0) (62,0)
(0,1) (6.2,1) (12.4,1) (18.6,1) (24.8,1) (31,1) (37.2,1) (43.4,1) (49.6,1) (55.8,1) (62,1)};
\end{axis}
\node[anchor=east, inner sep=0] at (5.905,-0.44) {\cjk 传动链布置方案};

% (a)
\begin{axis}[panel, name=pa, at={(1.972cm,-0.737cm)}, ymin=3.32, ymax=15.13, ytick={4,6,...,14},
  ylabel={{\cjk 质量}/kg}]
\addplot[pts] table[x=x,y=y,meta=c]{\tabAn};
\addplot[ptsd] table[x=x,y=y,meta=c]{\tabAd};
\end{axis}

% (b)
\begin{axis}[panel, name=pb, at={(8.79cm,-0.737cm)}, ymin=0.031, ymax=0.171,
  ytick={0.04,0.06,0.08,0.10,0.12,0.14,0.16},
  yticklabel style={/pgf/number format/.cd, fixed, fixed zerofill, precision=2},
  ylabel={{\cjk 迎风面积}/m\textsuperscript{2}}]
\addplot[pts] table[x=x,y=y,meta=c]{\tabBn};
\addplot[ptsd] table[x=x,y=y,meta=c]{\tabBd};
\end{axis}

% (c)
\begin{axis}[panel, name=pc, at={(1.972cm,-5.685cm)}, ymin=901, ymax=2825,
  ytick={1000,1250,...,2750}, ylabel={{\cjk 分流轴齿轮负载}/N}]
\addplot[pts] table[x=x,y=y,meta=c]{\tabCn};
\addplot[ptsd] table[x=x,y=y,meta=c]{\tabCd};
\end{axis}

% (d)
\begin{axis}[panel, name=pd, at={(8.79cm,-5.685cm)}, ymin=-38, ymax=791.7,
  ytick={0,100,...,700}, ylabel={{\cjk 左侧中间轴齿轮负载}/N}]
\addplot[pts] table[x=x,y=y,meta=c]{\tabDn};
\addplot[ptsd] table[x=x,y=y,meta=c]{\tabDd};
\end{axis}

% (e)
\begin{axis}[panel, name=pe, at={(1.972cm,-10.673cm)}, ymin=-0.68, ymax=14.43,
  ytick={0,2,...,14}, ylabel={{\cjk 右侧中间轴齿轮负载}/N}]
\addplot[pts] table[x=x,y=y,meta=c]{\tabEn};
\addplot[ptsd] table[x=x,y=y,meta=c]{\tabEd};
\end{axis}

% (f)
\begin{axis}[name=pf, at={(8.822cm,-10.695cm)}, anchor=north west, scale only axis,
  width=4.747cm, height=3.719cm, xmin=0.3, xmax=5.7, ymin=0.43, ymax=5.57, y dir=reverse,
  axis line style={draw=none}, major tick length=0pt,
  xtick={1,2,3,4,5}, ytick={1,2,3,4,5},
  xticklabels={{\itshape I}\textsubscript{1},{\itshape I}\textsubscript{2},{\itshape I}\textsubscript{3},{\itshape I}\textsubscript{4},{\itshape I}\textsubscript{5}},
  yticklabels={{\itshape I}\textsubscript{1},{\itshape I}\textsubscript{2},{\itshape I}\textsubscript{3},{\itshape I}\textsubscript{4},{\itshape I}\textsubscript{5}},
  grid=major, major grid style={draw=black!20, line width=0.4pt}, clip=false]
\addplot[only marks, mark=*, mark size=7.3pt, mark options={fill=cO, draw=white, line width=0.97pt}] table[x=x,y=y]{\tabFo};
\addplot[only marks, mark=*, mark size=6.6pt, mark options={fill=cLa, draw=white, line width=0.97pt}] table[x=x,y=y]{\tabFla};
\addplot[only marks, mark=*, mark size=6.5pt, mark options={fill=cLb, draw=white, line width=0.97pt}] table[x=x,y=y]{\tabFlb};
\addplot[only marks, mark=*, mark size=6.4pt, mark options={fill=cM, draw=white, line width=0.97pt}] table[x=x,y=y]{\tabFm};
\addplot[only marks, mark=*, mark size=6.1pt, mark options={fill=cB, draw=white, line width=0.97pt}] table[x=x,y=y]{\tabFb};
\end{axis}

% legend of (f)
\begin{axis}[at={(13.70cm,-10.861cm)}, anchor=north west, scale only axis, width=0.4cm, height=2.862cm,
  xmin=0, xmax=1, ymin=-0.45, ymax=1.05, y dir=reverse, hide axis, clip=false]
\addplot[color=gA, only marks, mark=*, mark size=4.75pt, mark options={fill=gA, draw=gA, line width=0pt}] coordinates {(0.5,-0.3)};
\addplot[color=gB, only marks, mark=*, mark size=4.9pt, mark options={fill=gB, draw=gB, line width=0pt}] coordinates {(0.5,0)};
\addplot[color=gC, only marks, mark=*, mark size=5.1pt, mark options={fill=gC, draw=gC, line width=0pt}] coordinates {(0.5,0.3)};
\addplot[color=gD, only marks, mark=*, mark size=5.3pt, mark options={fill=gD, draw=gD, line width=0pt}] coordinates {(0.5,0.6)};
\addplot[color=gE, only marks, mark=*, mark size=5.45pt, mark options={fill=gE, draw=gE, line width=0pt}] coordinates {(0.5,0.9)};
\node[anchor=west, inner sep=0] at (axis cs:1.12,-0.3) {−0.3};
\node[anchor=west, inner sep=0] at (axis cs:1.51,0) {0};
\node[anchor=west, inner sep=0] at (axis cs:1.51,0.3) {0.3};
\node[anchor=west, inner sep=0] at (axis cs:1.51,0.6) {0.6};
\node[anchor=west, inner sep=0] at (axis cs:1.51,0.9) {0.9};
\end{axis}
\node at (14.17,-10.736) {\cjk 相关系数};

% x labels and captions
\node[anchor=base] at ([yshift=-6.55mm]pa.south) {\cjk 附件布局方案};
\node[anchor=base] at ([yshift=-10.0mm]pa.south) {(a) {\cjk 质量}};
\node[anchor=base] at ([yshift=-6.55mm]pb.south) {\cjk 附件布局方案};
\node[anchor=base] at ([yshift=-10.0mm]pb.south) {(b) {\cjk 迎风面积}};
\node[anchor=base] at ([yshift=-6.55mm]pc.south) {\cjk 附件布局方案};
\node[anchor=base] at ([yshift=-10.0mm]pc.south) {(c) {\cjk 分流轴齿轮负载}};
\node[anchor=base] at ([yshift=-6.55mm]pd.south) {\cjk 附件布局方案};
\node[anchor=base] at ([yshift=-10.0mm]pd.south) {(d) {\cjk 左侧中间轴齿轮负载}};
\node[anchor=base] at ([yshift=-6.55mm]pe.south) {\cjk 附件布局方案};
\node[anchor=base] at ([yshift=-10.0mm]pe.south) {(e) {\cjk 右侧中间轴齿轮负载}};
\node[anchor=base] at (11.445,-15.413) {(f) {\cjk 相关性分析}};
\end{tikzpicture}
\end{document}
